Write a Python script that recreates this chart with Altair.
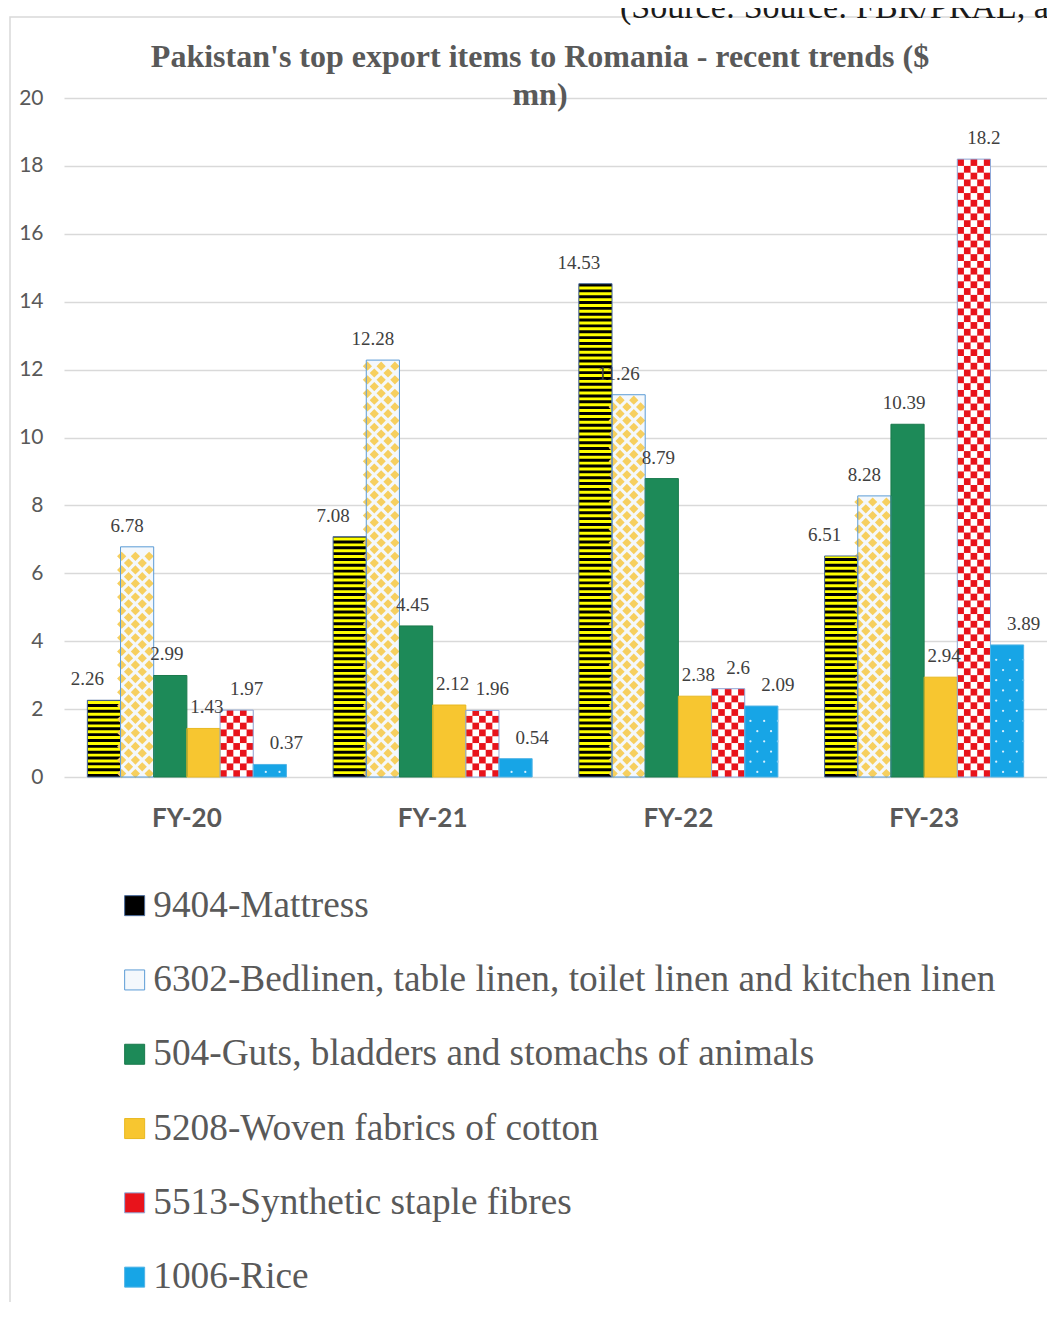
import altair as alt
import pandas as pd

# ---------------- data ----------------
years = ["FY-20", "FY-21", "FY-22", "FY-23"]
series = [
    "9404-Mattress",
    "6302-Bedlinen, table linen, toilet linen and kitchen linen",
    "504-Guts, bladders and stomachs of animals",
    "5208-Woven fabrics of cotton",
    "5513-Synthetic staple fibres",
    "1006-Rice",
]
mattress = [2.26, 7.08, 14.53, 6.51]
bedlinen = [6.78, 12.28, 11.26, 8.28]
guts = [2.99, 4.45, 8.79, 10.39]
fabric = [1.43, 2.12, 2.38, 2.94]
synthetic = [1.97, 1.96, 2.6, 18.2]
rice = [0.37, 0.54, 2.09, 3.89]

title_text = "Pakistan's top export items to Romania - recent trends ($\nmn)"
source_text = "(Source: Source: FBR/PRAL, a"

# ---------------- styles ----------------
fills = ["#000000", "#f4f8fc", "#1d8a58", "#f7c630", "#e8131b", "#17a5e6"]
strokes = ["#4a6a9a", "#5b9bd5", "#1a7a4c", "#e8b820", "#8eaadb", "#4fb3e6"]
STEP = 0.2          # pattern row height (data units)
STRIPE = 0.172      # stripe period for the mattress pattern (data units)
NCOL = 5            # pattern sub-columns per bar
GREY = "#595959"

all_values = [mattress, bedlinen, guts, fabric, synthetic, rice]
rows = []
for si, (s, vals) in enumerate(zip(series, all_values)):
    for y, v in zip(years, vals):
        rows.append({"year": y, "series": s, "sidx": si, "value": v})
df = pd.DataFrame(rows)

xscale = alt.Scale(domain=years, paddingInner=0.19, paddingOuter=0.095)
yscale = alt.Scale(domain=[0, 20])

x_axis = alt.Axis(title=None, labelFont="Lato", labelFontWeight="bold",
                  labelFontSize=26, labelColor=GREY, labelPadding=28,
                  ticks=False, domain=False, labelAngle=0, grid=False)
y_axis = alt.Axis(title=None, values=list(range(0, 21, 2)),
                  labelFont="Lato", labelFontSize=21, labelColor=GREY,
                  labelPadding=21, ticks=False, tickSize=0,
                  domain=False, gridColor="#d9d9d9", gridWidth=1.3)


def X():
    return alt.X("year:N", sort=years, scale=xscale, axis=x_axis)


def Y(field):
    return alt.Y(field, scale=yscale, axis=y_axis)


OFF = alt.XOffset("series:N", sort=series,
                  scale=alt.Scale(domain=series, paddingInner=0, paddingOuter=0))
SLOT = alt.XOffset("slot:O",
                   scale=alt.Scale(domain=list(range(len(series) * NCOL)),
                                   paddingInner=0, paddingOuter=0))

base = alt.Chart(df).mark_bar(strokeWidth=0).encode(
    x=X(),
    xOffset=OFF,
    y=Y("value:Q"),
    color=alt.Color("series:N", sort=series,
                    scale=alt.Scale(domain=series, range=fills),
                    legend=alt.Legend(
                        title=None, orient="none", legendX=52, legendY=789,
                        direction="vertical", symbolType="square",
                        symbolSize=400, symbolStrokeWidth=1,
                        symbolStrokeColor="#5b9bd5",
                        labelFont="Liberation Serif", labelFontSize=37.3,
                        labelColor=GREY, labelLimit=2000, labelOffset=0,
                        rowPadding=36.3, padding=0)),
)

# horizontal yellow stripes on the mattress bars
stripes = (
    alt.Chart(df)
    .transform_filter(alt.datum.sidx == 0)
    .transform_calculate(r=f"sequence(0, ceil(datum.value / {STRIPE}))")
    .transform_flatten(["r"])
    .transform_calculate(y0=f"datum.r * {STRIPE} + {STRIPE / 2}",
                         y1=f"min(datum.r * {STRIPE} + {STRIPE}, datum.value)")
    .transform_filter("datum.y0 < datum.value")
    .mark_bar(color="#ffff00", strokeWidth=0)
    .encode(x=X(), xOffset=OFF, y=Y("y0:Q"), y2="y1:Q")
)

# red / white checker on synthetic fibres
checker = (
    alt.Chart(df)
    .transform_filter(alt.datum.sidx == 4)
    .transform_calculate(r=f"sequence(0, ceil(datum.value / {STEP}))")
    .transform_flatten(["r"])
    .transform_calculate(c=f"sequence(0, {NCOL})")
    .transform_flatten(["c"])
    .transform_filter("(datum.r + datum.c) % 2 == 1")
    .transform_calculate(y0=f"datum.r * {STEP}",
                         y1=f"min(datum.r * {STEP} + {STEP}, datum.value)",
                         slot=f"datum.sidx * {NCOL} + datum.c")
    .mark_bar(color="#ffffff", strokeWidth=0)
    .encode(x=X(), xOffset=SLOT, y=Y("y0:Q"), y2="y1:Q")
)

# yellow diamonds on bedlinen
diamonds = (
    alt.Chart(df)
    .transform_filter(alt.datum.sidx == 1)
    .transform_calculate(r=f"sequence(0, floor(datum.value / {STEP}))")
    .transform_flatten(["r"])
    .transform_calculate(c=f"sequence(0, {NCOL})")
    .transform_flatten(["c"])
    .transform_filter("(datum.r + datum.c) % 2 == 0")
    .transform_calculate(yc=f"datum.r * {STEP} + {STEP / 2}",
                         slot=f"datum.sidx * {NCOL} + datum.c")
    .mark_point(shape="diamond", filled=True, size=85, color="#f6cf5f",
                opacity=1, strokeWidth=0)
    .encode(x=X(), xOffset=SLOT, y=Y("yc:Q"))
)

# small white dots on rice
dots = (
    alt.Chart(df)
    .transform_filter(alt.datum.sidx == 5)
    .transform_calculate(r="sequence(0, floor(datum.value / 0.3))")
    .transform_flatten(["r"])
    .transform_calculate(c=f"sequence(0, {NCOL})")
    .transform_flatten(["c"])
    .transform_filter("(datum.r + datum.c) % 2 == 1")
    .transform_calculate(yc="datum.r * 0.3 + 0.15",
                         slot=f"datum.sidx * {NCOL} + datum.c")
    .mark_point(shape="circle", filled=True, size=5, color="#d8f0ff",
                opacity=1, strokeWidth=0)
    .encode(x=X(), xOffset=SLOT, y=Y("yc:Q"))
)

outline = alt.Chart(df).mark_bar(fillOpacity=0, strokeWidth=1).encode(
    x=X(), xOffset=OFF,
    y=Y("value:Q"),
    stroke=alt.Stroke("series:N", sort=series,
                      scale=alt.Scale(domain=series, range=strokes),
                      legend=None),
)

labels = alt.Chart(df).mark_text(
    font="Liberation Serif", fontSize=19, color="#404040",
    baseline="alphabetic", dy=-15,
).encode(
    x=X(), xOffset=OFF,
    y=Y("value:Q"),
    text=alt.Text("value:Q", format=".2~f"),
)

one = alt.Data(values=[{"k": 1}])

frame = alt.Chart(one).mark_rect(
    fillOpacity=0, stroke="#d9d9d9", strokeWidth=1.5
).encode(x=alt.value(-54), x2=alt.value(2000),
         y=alt.value(-81), y2=alt.value(2000))

title_mark = alt.Chart(one).mark_text(
    font="Liberation Serif", fontWeight="bold", fontSize=32, color=GREY,
    lineBreak="\n", lineHeight=38, align="center", baseline="alphabetic",
).encode(x=alt.value(476), y=alt.value(-31), text=alt.value(title_text))

source_mark = alt.Chart(one).mark_text(
    font="Liberation Serif", fontSize=34, color="#1a1a1a",
    align="left", baseline="alphabetic",
).encode(x=alt.value(556), y=alt.value(-80), text=alt.value(source_text))

chart = (
    alt.layer(frame, base, stripes, diamonds, checker, dots, outline,
              labels, title_mark, source_mark)
    .resolve_scale(xOffset="independent")
    .properties(width=983, height=679,
                autosize=alt.AutoSizeParams(type="none"),
                padding={"left": 56, "top": 90, "right": 0, "bottom": 525},
                background="#ffffff")
    .configure_view(strokeWidth=0)
)

chart.save("out.html", embed_options={"renderer": "svg", "actions": False})
